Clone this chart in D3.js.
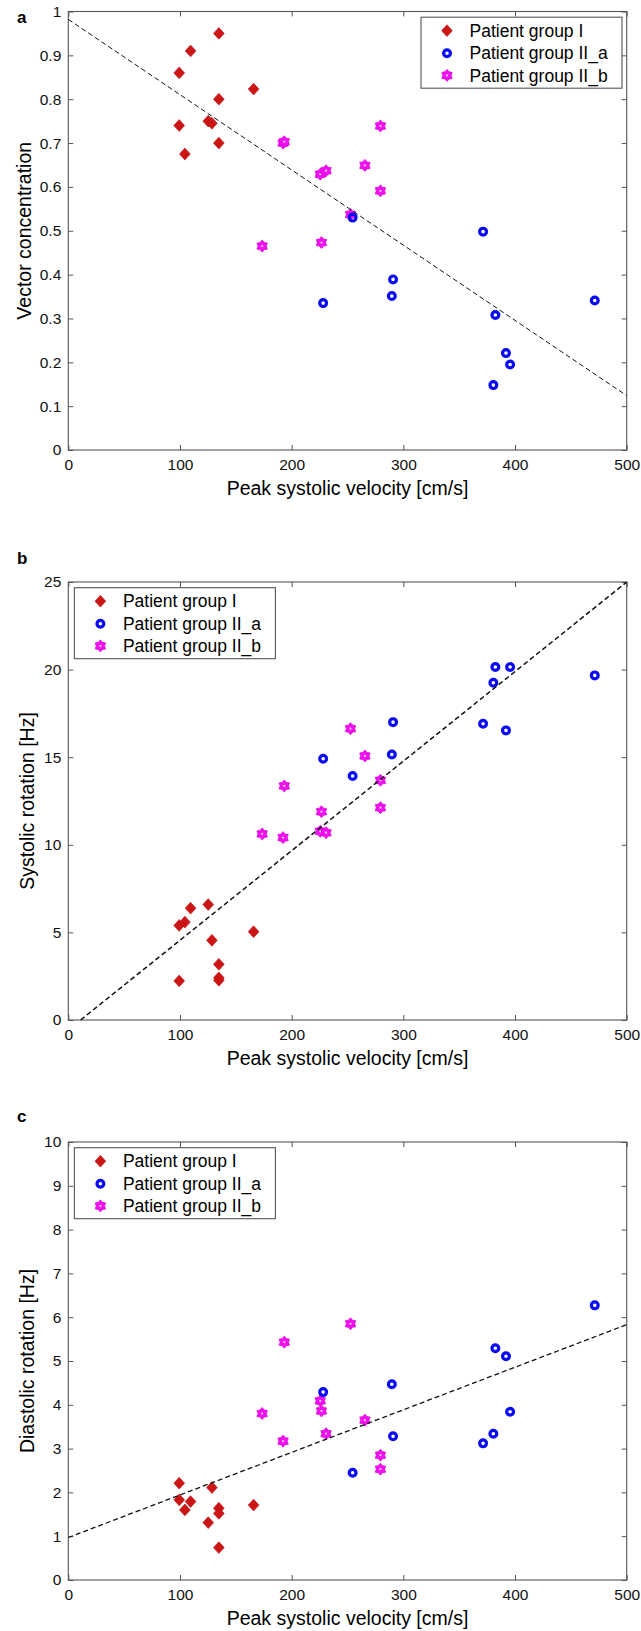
<!DOCTYPE html>
<html>
<head>
<meta charset="utf-8">
<script src="https://cdn.jsdelivr.net/npm/d3@7"></script>
<style>
  body { margin: 0; background: #fff; }
  svg { display: block; font-family: "Liberation Sans", Arial, Helvetica, sans-serif; }
  .tick text { font-size: 15.5px; fill: #111; }
  .tick line { stroke: #555; }
</style>
</head>
<body>
<div id="chart"></div>
<script>
/*
 * Three scatter panels (a, b, c) against peak systolic velocity,
 * one dashed regression line per panel.
 */

// peak systolic velocity [cm/s], same patients in every panel
var velGroupI   = [99.3, 99.3, 104.4, 109.5, 125.3, 128.6, 134.8, 134.8, 134.8, 165.9];
var velGroupIIa = [228.2, 254.6, 289.7, 290.8, 371.4, 380.6, 382.4, 391.9, 395.6, 471.4];
var velGroupIIb = [173.6, 192.3, 193.4, 225.6, 226.7, 230.8, 252.7, 265.6, 279.5, 279.5];

// a - vector concentration
var vecGroupI   = [0.86, 0.74, 0.675, 0.91, 0.75, 0.745, 0.95, 0.80, 0.70, 0.823];
var vecGroupIIa = [0.335, 0.530, 0.351, 0.389, 0.498, 0.148, 0.308, 0.221, 0.195, 0.341];
var vecGroupIIb = [0.465, 0.700, 0.703, 0.629, 0.473, 0.637, 0.537, 0.649, 0.739, 0.591];

// b - systolic rotation [Hz]
var sysGroupI   = [5.40, 2.23, 5.59, 6.38, 6.59, 4.55, 3.18, 2.41, 2.27, 5.04];
var sysGroupIIa = [14.91, 13.93, 15.15, 17.0, 16.91, 19.25, 20.15, 16.53, 20.15, 19.67];
var sysGroupIIb = [10.62, 10.41, 13.36, 10.77, 11.89, 10.69, 16.63, 15.07, 13.68, 12.12];

// c - diastolic rotation [Hz]
var diaGroupI   = [2.21, 1.83, 1.60, 1.79, 1.31, 2.11, 1.64, 1.52, 0.74, 1.71];
var diaGroupIIa = [4.29, 2.45, 4.47, 3.28, 3.12, 3.34, 5.29, 5.11, 3.84, 6.27];
var diaGroupIIb = [3.80, 3.17, 5.43, 4.09, 3.86, 3.34, 5.85, 3.65, 2.85, 2.53];

// regression line end points [velocity, value]
var fitA = [[0, 0.982], [500, 0.124]];
var fitB = [[11, 0], [500, 25]];
var fitC = [[0, 0.97], [500, 5.83]];

var groupNames = ["Patient group I", "Patient group II_a", "Patient group II_b"];
var xTicks  = [0, 100, 200, 300, 400, 500];
var yTicksA = [0, 0.1, 0.2, 0.3, 0.4, 0.5, 0.6, 0.7, 0.8, 0.9, 1];
var yTicksB = [0, 5, 10, 15, 20, 25];
var yTicksC = [0, 1, 2, 3, 4, 5, 6, 7, 8, 9, 10];

var W = 641, H = 1631;
var left = 68.3, right = 626.7;

var svg = d3.select("#chart").append("svg")
	.attr("width", W)
	.attr("height", H)
	;

var x = d3.scaleLinear().domain([0, 500]).range([left, right]);

// marker shapes
function diamondPath() {
	return "M0,-5.9L5.4,0L0,5.9L-5.4,0Z";
}
function hexagramPath(R) {
	var r = R * 0.68, pts = [];
	for (var i = 0; i < 12; i++) {
		var a = -Math.PI / 2 + i * Math.PI / 6;
		var rr = (i % 2 === 0) ? R : r;
		pts.push([rr * Math.cos(a), rr * Math.sin(a)]);
	}
	return "M" + pts.join("L") + "Z";
}

function drawMarker(g, kind, cx, cy) {
	if (kind === 0) {
		g.append("path")
			.attr("d", diamondPath())
			.attr("transform", "translate(" + cx + "," + cy + ")")
			.attr("fill", "#cc1616")
			.attr("stroke", "#b81010")
			.attr("stroke-width", 0.6)
			;
	} else if (kind === 1) {
		g.append("circle")
			.attr("cx", cx).attr("cy", cy).attr("r", 3.4)
			.attr("fill", "none")
			.attr("stroke", "#0a0af5")
			.attr("stroke-width", 3.2)
			;
	} else {
		g.append("path")
			.attr("d", hexagramPath(6))
			.attr("transform", "translate(" + cx + "," + cy + ")")
			.attr("fill", "#f010f0")
			.attr("stroke", "#e000e0")
			.attr("stroke-width", 0.8)
			;
		g.append("circle")
			.attr("cx", cx).attr("cy", cy).attr("r", 1.1)
			.attr("fill", "#fbd0fb")
			;
	}
}

function drawPanel(p) {
	var y = d3.scaleLinear().domain(p.yDomain).range([p.bottom, p.top]);
	var g = svg.append("g");

	// panel letter
	g.append("text")
		.text(p.letter)
		.attr("x", 17)
		.attr("y", p.letterY)
		.attr("font-size", 17)
		.attr("font-weight", "bold")
		;

	// axes, ticks pointing inward on all four sides
	g.append("g")
		.attr("transform", "translate(0," + p.bottom + ")")
		.call(d3.axisBottom(x).tickValues(xTicks).tickFormat(d3.format("d"))
			.tickSizeInner(-5).tickSizeOuter(0).tickPadding(9))
		.call(function(s) { s.select(".domain").remove(); })
		;
	g.append("g")
		.attr("transform", "translate(0," + p.top + ")")
		.call(d3.axisTop(x).tickValues(xTicks).tickFormat("")
			.tickSizeInner(-5).tickSizeOuter(0))
		.call(function(s) { s.select(".domain").remove(); })
		;
	g.append("g")
		.attr("transform", "translate(" + left + ",0)")
		.call(d3.axisLeft(y).tickValues(p.yTicks).tickFormat(function(d) { return String(d); })
			.tickSizeInner(-5).tickSizeOuter(0).tickPadding(7))
		.call(function(s) { s.select(".domain").remove(); })
		;
	g.append("g")
		.attr("transform", "translate(" + right + ",0)")
		.call(d3.axisRight(y).tickValues(p.yTicks).tickFormat("")
			.tickSizeInner(-5).tickSizeOuter(0))
		.call(function(s) { s.select(".domain").remove(); })
		;
	g.selectAll(".tick line").attr("stroke", "#555");

	g.append("rect")
		.attr("x", left)
		.attr("y", p.top)
		.attr("width", right - left)
		.attr("height", p.bottom - p.top)
		.attr("fill", "none")
		.attr("stroke", "#555")
		.attr("stroke-width", 1.1)
		;

	// axis titles
	g.append("text")
		.text("Peak systolic velocity [cm/s]")
		.attr("x", (left + right) / 2)
		.attr("y", p.bottom + 45)
		.attr("text-anchor", "middle")
		.attr("font-size", 19.5)
		;
	g.append("text")
		.text(p.yTitle)
		.attr("transform", "translate(" + p.yTitleX + "," + ((p.top + p.bottom) / 2) + ") rotate(-90)")
		.attr("text-anchor", "middle")
		.attr("font-size", 19.5)
		;

	// points: group I, II_b, II_a
	var pts = g.append("g");
	[0, 2, 1].forEach(function(k) {
		var xs = p.xs[k], ys = p.ys[k];
		xs.forEach(function(v, i) {
			drawMarker(pts, k, x(v), y(ys[i]));
		});
	});

	// regression line
	g.append("path")
		.attr("d", d3.line().x(function(d) { return x(d[0]); }).y(function(d) { return y(d[1]); })(p.fit))
		.attr("fill", "none")
		.attr("stroke", "#111")
		.attr("stroke-width", p.fitWidth)
		.attr("stroke-dasharray", "5,3")
		;

	// legend
	var lx = p.legendRight ? right - 4.7 - 201 : left + 6.1;
	var ly = p.top + 5.7;
	var lg = g.append("g").attr("transform", "translate(" + lx + "," + ly + ")");
	lg.append("rect")
		.attr("width", 201)
		.attr("height", 71)
		.attr("fill", "#fff")
		.attr("stroke", "#555")
		.attr("stroke-width", 1.1)
		;
	var rows = [13.5, 36, 58.2];
	groupNames.forEach(function(name, k) {
		drawMarker(lg, k, 26, rows[k]);
		lg.append("text")
			.text(name)
			.attr("x", 48.5)
			.attr("y", rows[k])
			.attr("dy", "0.35em")
			.attr("font-size", 17.5)
			;
	});
}

var xsAll = [velGroupI, velGroupIIa, velGroupIIb];

drawPanel({
	letter: "a", letterY: 23, top: 11.5, bottom: 450,
	yDomain: [0, 1], yTicks: yTicksA, yTitle: "Vector concentration", yTitleX: 31,
	xs: xsAll, ys: [vecGroupI, vecGroupIIa, vecGroupIIb],
	fit: fitA, fitWidth: 1, legendRight: true
});
drawPanel({
	letter: "b", letterY: 564, top: 582, bottom: 1020,
	yDomain: [0, 25], yTicks: yTicksB, yTitle: "Systolic rotation [Hz]", yTitleX: 34,
	xs: xsAll, ys: [sysGroupI, sysGroupIIa, sysGroupIIb],
	fit: fitB, fitWidth: 1.5, legendRight: false
});
drawPanel({
	letter: "c", letterY: 1122, top: 1142, bottom: 1580,
	yDomain: [0, 10], yTicks: yTicksC, yTitle: "Diastolic rotation [Hz]", yTitleX: 34,
	xs: xsAll, ys: [diaGroupI, diaGroupIIa, diaGroupIIb],
	fit: fitC, fitWidth: 1.3, legendRight: false
});
</script>
</body>
</html>
